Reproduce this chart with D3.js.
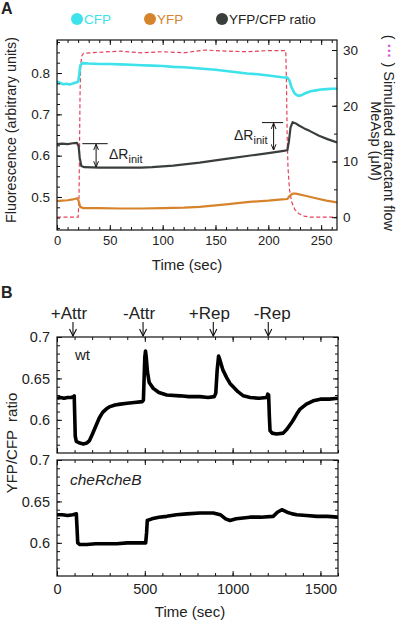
<!DOCTYPE html>
<html><head><meta charset="utf-8">
<script src="https://cdn.jsdelivr.net/npm/d3@7"></script>
<style>
body{margin:0;background:#fff}
text{font-family:"Liberation Sans",Arial,Helvetica,sans-serif;fill:#222}
</style>
</head><body>
<svg id="chart" width="400" height="627"></svg>
<script>
// ---------- DATA ----------
// Panel A: time (sec) , value
const cfpA = [[0,0.780],[3,0.776],[6,0.773],[9,0.774],[12,0.772],[15,0.775],[18,0.777],[20,0.779],[21,0.795],[22,0.818],[24,0.824],[30,0.823],[40,0.822],[50,0.822],[60,0.821],[70,0.820],[80,0.819],[90,0.818],[100,0.817],[110,0.815],[120,0.814],[135,0.811],[150,0.808],[166,0.803],[180,0.799],[190,0.797],[200,0.794],[213,0.790],[218,0.789],[220,0.782],[222,0.765],[225,0.750],[228,0.745],[231,0.746],[235,0.751],[240,0.756],[245,0.758],[250,0.760],[255,0.761],[260,0.762],[265,0.762]];
const ratioA = [[0,0.628],[5,0.629],[10,0.628],[15,0.630],[19,0.631],[20.5,0.622],[21.5,0.595],[23,0.575],[26,0.572],[40,0.571],[60,0.571],[80,0.571],[90,0.572],[110,0.576],[135,0.583],[160,0.592],[185,0.601],[200,0.606],[213,0.611],[218,0.613],[219.5,0.635],[221,0.668],[223,0.681],[226,0.678],[229,0.673],[234,0.666],[239,0.660],[248,0.648],[256,0.640],[265,0.632]];
const yfpA = [[0,0.490],[5,0.491],[10,0.492],[15,0.494],[19,0.497],[20.5,0.490],[22,0.476],[25,0.473],[40,0.473],[60,0.472],[80,0.472],[100,0.473],[120,0.474],[135,0.476],[160,0.482],[182,0.488],[200,0.491],[213,0.494],[218,0.495],[220,0.502],[223,0.508],[226,0.508],[235,0.503],[245,0.497],[255,0.491],[265,0.487]];
const flowA = [[0,0],[20,0],[20.8,3],[21.3,12],[21.8,22],[22.5,27.5],[23.5,29],[25,29.4],[40,29.6],[60,29.8],[80,29.5],[100,29.7],[120,29.5],[140,30.0],[160,29.8],[180,29.7],[200,29.9],[216.5,29.9],[217.2,24],[217.8,15],[218.6,9],[220,5],[222,2.8],[225,1.4],[229,0.6],[234,0.2],[240,0],[265,0]];
const deltaR = [{t:37, lo:0.571, hi:0.629, text:[24,48]}, {t:205, lo:0.612, hi:0.680, text:[194,214]}];

// Panel B wt and cheRcheB
const wtB = [[0,0.626],[20,0.627],[40,0.626],[60,0.627],[80,0.627],[94,0.628],[98,0.629],[101,0.605],[104,0.580],[110,0.574],[130,0.572],[150,0.571],[170,0.572],[185,0.575],[200,0.582],[220,0.592],[240,0.602],[260,0.609],[280,0.613],[302,0.616],[330,0.618],[360,0.619],[400,0.620],[440,0.621],[486,0.622],[492,0.624],[496,0.650],[500,0.676],[504,0.683],[508,0.676],[515,0.658],[525,0.645],[548,0.638],[580,0.633],[625,0.630],[700,0.629],[750,0.628],[814,0.628],[860,0.627],[895,0.628],[904,0.632],[912,0.660],[920,0.677],[928,0.672],[945,0.660],[966,0.651],[985,0.644],[1003,0.640],[1030,0.634],[1061,0.629],[1100,0.627],[1150,0.626],[1194,0.627],[1200,0.631],[1205,0.630],[1209,0.605],[1213,0.587],[1225,0.584],[1250,0.583],[1288,0.584],[1310,0.589],[1340,0.598],[1365,0.607],[1384,0.613],[1420,0.619],[1459,0.623],[1500,0.625],[1550,0.625],[1600,0.626]];
const cheB = [[0,0.634],[30,0.634],[60,0.633],[90,0.634],[110,0.635],[114,0.618],[118,0.600],[130,0.598],[170,0.598],[220,0.599],[280,0.599],[340,0.599],[400,0.600],[460,0.600],[505,0.600],[510,0.612],[514,0.627],[540,0.629],[580,0.631],[625,0.632],[680,0.634],[739,0.635],[814,0.636],[890,0.636],[930,0.634],[960,0.629],[985,0.627],[1020,0.629],[1060,0.630],[1099,0.631],[1160,0.631],[1231,0.632],[1255,0.637],[1280,0.640],[1310,0.637],[1340,0.635],[1365,0.634],[1420,0.633],[1480,0.632],[1540,0.632],[1600,0.631]];

const stimNames = ["+Attr","-Attr","+Rep","-Rep"];
const stimTimes = [91, 490, 890, 1203];

const ticksAx = [0,50,100,150,200,250];
const ticksAyL = [0.5,0.6,0.7,0.8];
const ticksAyR = [0,10,20,30];
const ticksBx = [0,500,1000,1500];
const ticksBy = [0.6,0.65,0.7];

// ---------- STYLES ----------
const C_CFP = "#3de2ea", C_YFP = "#d6842c", C_RAT = "#3a3f3b", C_FLOW = "#e5425e", C_DOTS = "#d24fd2";

const svg = d3.select("#chart");

// ---------- PANEL A ----------
const A = {l:57, r:337, t:40, b:230};
const xA = d3.scaleLinear().domain([0,265]).range([A.l,A.r]);
const yL = d3.scaleLinear().domain([0.42,0.88]).range([A.b,A.t]);
const yR = d3.scaleLinear().domain([-2.3,31.8]).range([A.b,A.t]);

function frame(box){
  svg.append("rect").attr("x",box.l).attr("y",box.t).attr("width",box.r-box.l).attr("height",box.b-box.t)
    .attr("fill","none").attr("stroke","#111").attr("stroke-width",1.2);
}
function axisG(axis, tx, ty, fs){
  const g = svg.append("g").attr("transform",`translate(${tx},${ty})`).call(axis);
  g.select(".domain").remove();
  g.selectAll("line").attr("stroke","#111");
  g.selectAll("text").attr("font-size",fs).style("fill","#222").attr("font-family",'"Liberation Sans",Arial,sans-serif');
  return g;
}

// clip for A
svg.append("clipPath").attr("id","clipA").append("rect").attr("x",A.l).attr("y",A.t).attr("width",A.r-A.l).attr("height",A.b-A.t);

const lineA = d3.line().x(d=>xA(d[0])).y(d=>yL(d[1]));
const lineF = d3.line().x(d=>xA(d[0])).y(d=>yR(d[1]));
const gA = svg.append("g").attr("clip-path","url(#clipA)");
gA.append("path").datum(flowA).attr("d",lineF).attr("fill","none").attr("stroke",C_FLOW).attr("stroke-width",1.2).attr("stroke-dasharray","4,2.5");
gA.append("path").datum(cfpA).attr("d",lineA).attr("fill","none").attr("stroke",C_CFP).attr("stroke-width",2.6).attr("stroke-linejoin","round");
gA.append("path").datum(yfpA).attr("d",lineA).attr("fill","none").attr("stroke",C_YFP).attr("stroke-width",2.2).attr("stroke-linejoin","round");
gA.append("path").datum(ratioA).attr("d",lineA).attr("fill","none").attr("stroke",C_RAT).attr("stroke-width",2.2).attr("stroke-linejoin","round");

frame(A);
// axes A
axisG(d3.axisBottom(xA).tickValues(ticksAx).tickSize(-5).tickSizeOuter(0).tickPadding(6), 0, A.b, 13);
axisG(d3.axisBottom(xA).tickValues(d3.range(0,266,10)).tickSize(-3).tickSizeOuter(0).tickFormat(""), 0, A.b, 13);
axisG(d3.axisTop(xA).tickValues(ticksAx).tickSize(-5).tickSizeOuter(0).tickFormat(""), 0, A.t, 13);
axisG(d3.axisTop(xA).tickValues(d3.range(0,266,10)).tickSize(-3).tickSizeOuter(0).tickFormat(""), 0, A.t, 13);
axisG(d3.axisLeft(yL).tickValues(ticksAyL).tickSize(-5).tickSizeOuter(0).tickPadding(7).tickFormat(d3.format(".1f")), A.l, 0, 13.5);
axisG(d3.axisLeft(yL).tickValues(d3.range(0.425,0.88,0.025)).tickSize(-3).tickSizeOuter(0).tickFormat(""), A.l, 0, 13);
axisG(d3.axisRight(yR).tickValues(ticksAyR).tickSize(-5).tickSizeOuter(0).tickPadding(6), A.r, 0, 13.5);
axisG(d3.axisRight(yR).tickValues(d3.range(0,32,5)).tickSize(-3).tickSizeOuter(0).tickFormat(""), A.r, 0, 13);

// delta R annotations
svg.append("defs").html(`<marker id="ah" viewBox="0 0 10 10" refX="9" refY="5" markerWidth="6" markerHeight="6" orient="auto-start-reverse"><path d="M0,1 L10,5 L0,9" fill="none" stroke="#111" stroke-width="1.6"/></marker>`);
deltaR.forEach((d,i)=>{
  svg.append("line").attr("x1",xA(d.text[0])).attr("x2",xA(d.text[1])).attr("y1",yL(d.hi)).attr("y2",yL(d.hi)).attr("stroke","#111").attr("stroke-width",1);
  svg.append("line").attr("x1",xA(d.t)).attr("x2",xA(d.t)).attr("y1",yL(d.hi)+1).attr("y2",yL(d.lo)-1).attr("stroke","#111").attr("stroke-width",1)
    .attr("marker-start","url(#ah)").attr("marker-end","url(#ah)");
});
function dR(x,y){
  const t = svg.append("text").attr("x",x).attr("y",y).attr("font-size",14);
  t.append("tspan").text("ΔR");
  t.append("tspan").attr("font-size",11).attr("dy",4).text("init");
}
dR(109,159);
dR(234,140);

// labels A
svg.append("text").attr("x",1).attr("y",14).attr("font-size",16).attr("font-weight","bold").text("A");
svg.append("text").attr("x",187).attr("y",270).attr("font-size",15).attr("text-anchor","middle").text("Time (sec)");
svg.append("text").attr("transform","translate(16,130) rotate(-90)").attr("font-size",14.3).attr("text-anchor","middle").text("Fluorescence (arbitrary units)");
const r1 = svg.append("text").attr("transform","translate(384,133) rotate(90)").attr("font-size",14.6).attr("text-anchor","middle");
r1.append("tspan").text("( ");
r1.append("tspan").style("fill",C_DOTS).attr("font-weight","bold").text("···");
r1.append("tspan").text(" )  Simulated attractant flow");
svg.append("text").attr("transform","translate(371,141) rotate(90)").attr("font-size",14.6).attr("text-anchor","middle").text("MeAsp (μM)");

// legend
const legend = [{c:C_CFP,t:"CFP",x:77,tc:C_CFP},{c:C_YFP,t:"YFP",x:150,tc:C_YFP},{c:C_RAT,t:"YFP/CFP ratio",x:222,tc:"#222"}];
legend.forEach(l=>{
  svg.append("circle").attr("cx",l.x).attr("cy",19).attr("r",6).attr("fill",l.c);
  svg.append("text").attr("x",l.x+7).attr("y",24).attr("font-size",13.5).style("fill",l.tc).text(l.t);
});

// ---------- PANEL B ----------
const B1 = {l:57, r:338, t:337, b:453};
const B2 = {l:57, r:338, t:460, b:576};
const xB = d3.scaleLinear().domain([0,1600]).range([B1.l,B1.r]);
const yB1 = d3.scaleLinear().domain([0.56,0.70]).range([B1.b,B1.t]);
const yB2 = d3.scaleLinear().domain([0.56,0.70]).range([B2.b,B2.t]);

[[B1,yB1,wtB,"clipB1"],[B2,yB2,cheB,"clipB2"]].forEach(([box,y,data,id],k)=>{
  svg.append("clipPath").attr("id",id).append("rect").attr("x",box.l).attr("y",box.t).attr("width",box.r-box.l).attr("height",box.b-box.t);
  svg.append("g").attr("clip-path",`url(#${id})`).append("path").datum(data)
    .attr("d",d3.line().x(d=>xB(d[0])).y(d=>y(d[1])))
    .attr("fill","none").attr("stroke","#000").attr("stroke-width",3.6).attr("stroke-linejoin","round");
  frame(box);
  axisG(d3.axisBottom(xB).tickValues(ticksBx).tickSize(-5).tickSizeOuter(0).tickPadding(8).tickFormat(k===1?d3.format("d"):""), 0, box.b, 14.5);
  axisG(d3.axisBottom(xB).tickValues(d3.range(0,1601,100)).tickSize(-3).tickSizeOuter(0).tickFormat(""), 0, box.b, 14);
  axisG(d3.axisTop(xB).tickValues(ticksBx).tickSize(-5).tickSizeOuter(0).tickFormat(""), 0, box.t, 14);
  axisG(d3.axisTop(xB).tickValues(d3.range(0,1601,100)).tickSize(-3).tickSizeOuter(0).tickFormat(""), 0, box.t, 14);
  axisG(d3.axisLeft(y).tickValues(ticksBy).tickSize(-5).tickSizeOuter(0).tickPadding(7).tickFormat(d=>String(+d.toFixed(2))), box.l, 0, 14.5);
  axisG(d3.axisLeft(y).tickValues(d3.range(0.57,0.70,0.01)).tickSize(-3).tickSizeOuter(0).tickFormat(""), box.l, 0, 14);
  axisG(d3.axisRight(y).tickValues(ticksBy).tickSize(-5).tickSizeOuter(0).tickFormat(""), box.r, 0, 14);
  axisG(d3.axisRight(y).tickValues(d3.range(0.57,0.70,0.01)).tickSize(-3).tickSizeOuter(0).tickFormat(""), box.r, 0, 14);
});

svg.append("text").attr("x",75).attr("y",360).attr("font-size",15).text("wt");
svg.append("text").attr("x",70).attr("y",485).attr("font-size",15.5).attr("font-style","italic").text("cheRcheB");
svg.append("text").attr("x",1).attr("y",298).attr("font-size",16).attr("font-weight","bold").text("B");
svg.append("text").attr("x",190).attr("y",617).attr("font-size",15).attr("text-anchor","middle").text("Time (sec)");
svg.append("text").attr("transform","translate(17,443) rotate(-90)").attr("font-size",15).attr("text-anchor","middle").style("white-space","pre").text("YFP/CFP  ratio");

// stimulus arrows
const labelShift = [-4,-4,-4,4];
stimNames.forEach((n,i)=>{
  const x = xB(stimTimes[i]);
  svg.append("line").attr("x1",x).attr("x2",x).attr("y1",322).attr("y2",336).attr("stroke","#111").attr("stroke-width",1.1);
  svg.append("path").attr("d",`M${x-3.5},${329} L${x},${336} L${x+3.5},${329}`).attr("fill","none").attr("stroke","#111").attr("stroke-width",1.1);
  svg.append("text").attr("x",x+labelShift[i]).attr("y",319).attr("font-size",17).attr("text-anchor","middle").text(n);
});
</script>
</body></html>
